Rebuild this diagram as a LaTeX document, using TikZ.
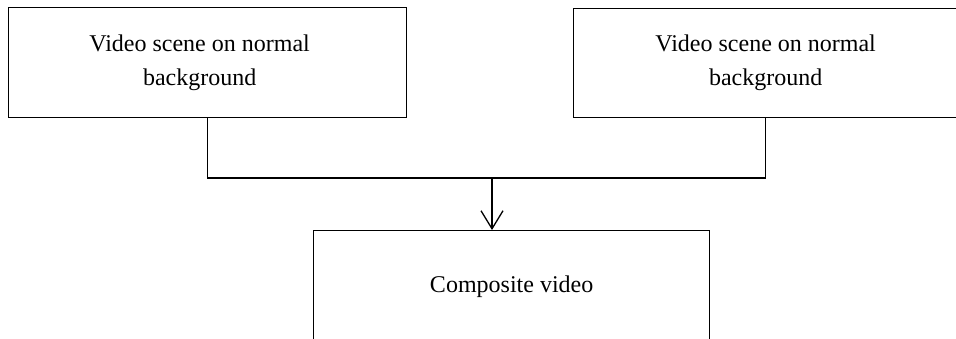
\documentclass[tikz,border=0pt]{standalone}
\usepackage{fontspec}
\setmainfont{Liberation Serif}
\usetikzlibrary{arrows.meta}
\begin{document}
\begin{tikzpicture}[x=1pt,y=-1pt,
  box/.style={draw, line width=1.3pt, align=center, inner sep=0pt, anchor=north west,
              font=\fontsize{24}{34}\selectfont},
  conn/.style={line width=1.3pt},
  arr/.style={conn, -{Straight Barb[length=18pt,width=22pt,line width=1.3pt]}}]
\useasboundingbox (0,0) rectangle (956,339);
\clip (0,0) rectangle (956,339);
\node[box, minimum width=398pt, minimum height=110pt] (a) at (8,7) {Video scene on normal\hspace*{16pt}\\background\hspace*{16pt}};
\node[box, minimum width=384pt, minimum height=109pt] (b) at (573,8) {Video scene on normal\\background};
\node[box, minimum width=396pt, minimum height=112pt] (c) at (313,230) {Composite video};
\coordinate (j) at (492,178);
\draw[conn] (a.south) |- (j) -| (b.south);
\draw[arr] (j) -- (j |- c.north);
\end{tikzpicture}
\end{document}
